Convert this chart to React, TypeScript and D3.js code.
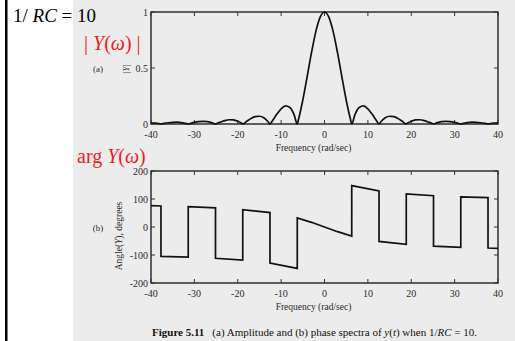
import React from 'react';
import * as d3 from 'd3';

// |Y(w)|
const magFreq = [
  -40, -39, -38, -37.7, -37, -36, -35, -34, -33, -32, -31.42, -31, -30, -29, -28, -27, -26, -25.13, -25,
  -24, -23, -22, -21, -20, -19, -18.85, -18, -17, -16, -15, -14, -13, -12.57, -12, -11, -10, -9, -8, -7,
  -6.28, -6, -5, -4, -3, -2, -1, 0, 1, 2, 3, 4, 5, 6, 6.28, 7, 8, 9, 10, 11, 12, 12.57, 13, 14, 15, 16,
  17, 18, 18.85, 19, 20, 21, 22, 23, 24, 25, 25.13, 26, 27, 28, 29, 30, 31, 31.42, 32, 33, 34, 35, 36,
  37, 37.7, 38, 39, 40,
];
const magnitude = [
  0.011, 0.008, 0.002, 0, 0.005, 0.011, 0.015, 0.016, 0.0125, 0.005, 0, 0.004, 0.014, 0.021, 0.024, 0.021, 0.012, 0, 0.002,
  0.017, 0.03, 0.038, 0.036, 0.024, 0.004, 0, 0.022, 0.048, 0.066, 0.069, 0.055, 0.02, 0, 0.03, 0.086, 0.136, 0.161, 0.148, 0.082,
  0, 0.04, 0.214, 0.422, 0.637, 0.825, 0.954, 1, 0.954, 0.825, 0.637, 0.422, 0.214, 0.04, 0, 0.082, 0.148, 0.161, 0.136, 0.086, 0.03, 0, 0.02, 0.055, 0.069, 0.066,
  0.048, 0.022, 0, 0.004, 0.024, 0.036, 0.038, 0.03, 0.017, 0.002, 0, 0.012, 0.021, 0.024, 0.021, 0.014, 0.004, 0, 0.005, 0.0125, 0.016, 0.015, 0.011,
  0.005, 0, 0.002, 0.008, 0.011,
];

// angle(Y) in degrees, panel (b)
const phaseFreq = [
  -40, -37.7, -37.7, -31.42, -31.42, -25.13, -25.13, -18.85, -18.85, -12.57, -12.57, -6.28, -6.28, -3, 0, 3, 6.28,
  6.28, 12.57, 12.57, 18.85, 18.85, 25.13, 25.13, 31.42, 31.42, 37.7, 37.7, 40,
];
const phaseDeg = [
  76, 75.1, -104.9, -107.7, 72.3, 68.3, -111.7, -118, 62, 51.5, -128.5, -147.9, 32.1, 16.7, 0, -16.7, -32.1,
  147.9, 128.5, -51.5, -62, 118, 111.7, -68.3, -72.3, 107.7, 104.9, -75.1, -76,
];

const freqTicks = [-40, -30, -20, -10, 0, 10, 20, 30, 40];
const magTicks = [0, 0.5, 1];
const magTickLabels = ['0', '0.5', '1'];
const phaseTicks = [-200, -100, 0, 100, 200];

const W = 515;
const H = 341;
const left = 151;
const right = 498;
const serif = '"Liberation Serif", "DejaVu Serif", serif';
const red = '#ee1c24';
const ink = '#2a2a2a';

const x = d3.scaleLinear().domain([-40, 40]).range([left, right]);
const yMag = d3.scaleLinear().domain([0, 1]).range([124, 12]);
const yPh = d3.scaleLinear().domain([-200, 200]).range([283, 171]);

type Sc = d3.ScaleLinear<number, number>;

function Frame({ y, yTicks, yLabels }: { y: Sc; yTicks: number[]; yLabels: string[] }) {
  const [y0, y1] = y.range();
  const tl = 4;
  return (
    <g>
      <rect x={left} y={y1} width={right - left} height={y0 - y1} fill="none" stroke="#222" strokeWidth={1.4} />
      {freqTicks.map((t) => (
        <g key={'x' + t}>
          <line x1={x(t)} x2={x(t)} y1={y0} y2={y0 - tl} stroke="#333" />
          <line x1={x(t)} x2={x(t)} y1={y1} y2={y1 + tl} stroke="#333" />
          <text x={x(t)} y={y0 + 14} fontSize={10} textAnchor="middle" fill={ink} fontFamily={serif}>
            {t}
          </text>
        </g>
      ))}
      {yTicks.map((t, i) => (
        <g key={'y' + t}>
          <line x1={left} x2={left + tl} y1={y(t)} y2={y(t)} stroke="#333" />
          <line x1={right} x2={right - tl} y1={y(t)} y2={y(t)} stroke="#333" />
          <text x={left - 3} y={y(t) + 3.5} fontSize={10} textAnchor="end" fill={ink} fontFamily={serif}>
            {yLabels[i]}
          </text>
        </g>
      ))}
      <text x={(left + right) / 2 - 11} y={y0 + 27} fontSize={9.5} textAnchor="middle" fill={ink} fontFamily={serif}>
        Frequency (rad/sec)
      </text>
    </g>
  );
}

export default function App() {
  const magLine = d3
    .line<number>()
    .x((_, i) => x(magFreq[i]))
    .y((d) => yMag(d))
    .curve(d3.curveMonotoneX);
  const phLine = d3
    .line<number>()
    .x((_, i) => x(phaseFreq[i]))
    .y((d) => yPh(d));

  return (
    <svg width={W} height={H} style={{ position: 'absolute', left: 0, top: 0 }} fontFamily={serif}>
      <rect x={0} y={0} width={W} height={H} fill="#fff" />
      <rect x={73} y={0} width={W - 73} height={H} fill="#ececec" />
      <rect x={5} y={0} width={2.5} height={H} fill="#000" />

      <Frame y={yMag} yTicks={magTicks} yLabels={magTickLabels} />
      <path d={magLine(magnitude) ?? ''} fill="none" stroke="#111" strokeWidth={1.7} />
      <text x={98} y={72} fontSize={9} textAnchor="middle" fill={ink}>(a)</text>
      <text transform="translate(129,69) rotate(-90)" fontSize={9} textAnchor="middle" fill={ink}>
        |<tspan fontStyle="italic">Y</tspan>|
      </text>

      <Frame y={yPh} yTicks={phaseTicks} yLabels={phaseTicks.map(String)} />
      <path d={phLine(phaseDeg) ?? ''} fill="none" stroke="#111" strokeWidth={1.7} />
      <text x={98} y={231} fontSize={9} textAnchor="middle" fill={ink}>(b)</text>
      <text transform="translate(122,236) rotate(-90)" fontSize={9.5} textAnchor="middle" fill={ink}>
        Angle(<tspan fontStyle="italic">Y</tspan>), degrees
      </text>

      <text x={152} y={336} fontSize={11} fill="#111">
        <tspan fontWeight="bold">Figure 5.11</tspan>
        <tspan dx={8}>(a) Amplitude and (b) phase spectra of </tspan>
        <tspan fontStyle="italic">y</tspan>(<tspan fontStyle="italic">t</tspan>) when 1/
        <tspan fontStyle="italic">RC</tspan> = 10.
      </text>

      <text x={13} y={22} fontSize={19} fill="#000">
        1/ <tspan fontStyle="italic">RC</tspan> = 10
      </text>
      <text x={84} y={50} fontSize={20} fill={red}>
        | <tspan fontStyle="italic">Y</tspan>(<tspan fontStyle="italic">ω</tspan>) |
      </text>
      <text x={77} y={163} fontSize={20} fill={red}>
        arg <tspan fontStyle="italic">Y</tspan>(<tspan fontStyle="italic">ω</tspan>)
      </text>
    </svg>
  );
}
